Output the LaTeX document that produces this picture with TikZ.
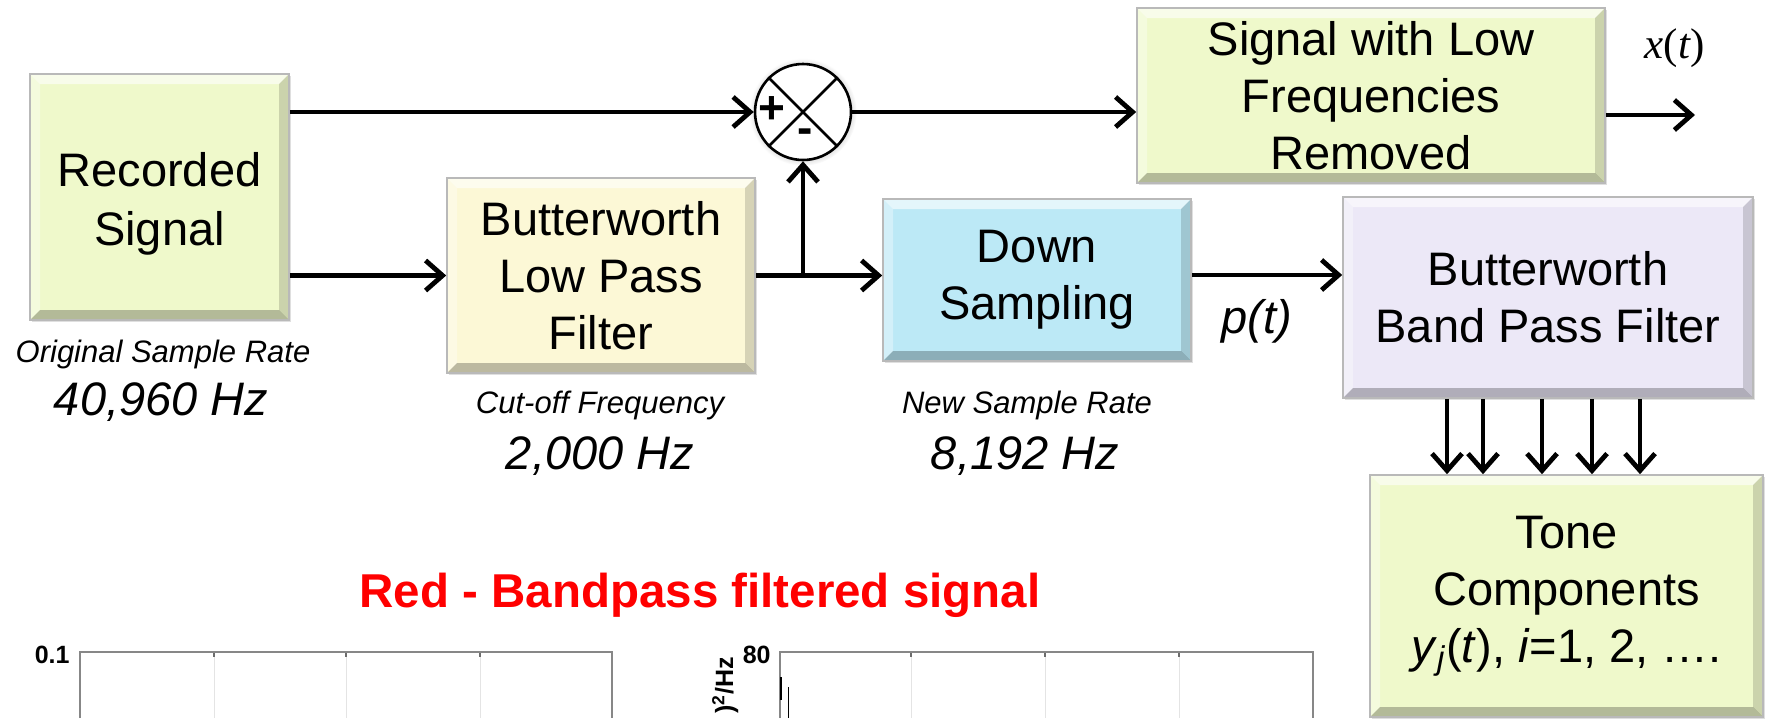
\documentclass[tikz,border=0pt]{standalone}
\usepackage{fontspec}
\setmainfont{Liberation Sans}
\newfontfamily\timesf{Liberation Serif}
\usetikzlibrary{arrows.meta,shadows,calc}
\definecolor{gbox}{RGB}{239,249,203}
\definecolor{ybox}{RGB}{252,248,214}
\definecolor{bbox}{RGB}{188,233,246}
\definecolor{pbox}{RGB}{236,232,247}
\definecolor{axgray}{RGB}{135,135,135}
\definecolor{gridgray}{RGB}{228,228,228}
\newcommand{\bevw}{5pt}
\tikzset{
  blk/.style={draw=gray!55, line width=0.8pt, inner sep=0pt, align=center,
    font=\fontsize{23.5pt}{28.5pt}\selectfont,
    drop shadow={opacity=0.25, shadow xshift=1pt, shadow yshift=-1pt},
    path picture={
      \fill[white,opacity=0.6] (path picture bounding box.north west) -- (path picture bounding box.north east)
        -- ([shift={(-\bevw,-\bevw)}]path picture bounding box.north east) -- ([shift={(\bevw,-\bevw)}]path picture bounding box.north west) -- cycle;
      \fill[white,opacity=0.35] (path picture bounding box.north west) -- ([shift={(\bevw,-\bevw)}]path picture bounding box.north west)
        -- ([shift={(\bevw,\bevw)}]path picture bounding box.south west) -- (path picture bounding box.south west) -- cycle;
      \fill[black,opacity=0.15] (path picture bounding box.north east) -- (path picture bounding box.south east)
        -- ([shift={(-\bevw,\bevw)}]path picture bounding box.south east) -- ([shift={(-\bevw,-\bevw)}]path picture bounding box.north east) -- cycle;
      \fill[black,opacity=0.25] (path picture bounding box.south west) -- ([shift={(\bevw,\bevw)}]path picture bounding box.south west)
        -- ([shift={(-\bevw,\bevw)}]path picture bounding box.south east) -- (path picture bounding box.south east) -- cycle;
    }},
  arr/.style={line width=2.4pt, -{Straight Barb[length=8.5pt,width=15pt]}},
  smalllbl/.style={font=\itshape\fontsize{15.5pt}{18pt}\selectfont, anchor=base},
  biglbl/.style={font=\itshape\fontsize{23.5pt}{28pt}\selectfont, anchor=base},
  axlbl/.style={font=\bfseries\fontsize{12.5pt}{14pt}\selectfont},
}
\begin{document}
\begin{tikzpicture}[x=0.5pt,y=-0.5pt]
\useasboundingbox (0,0) rectangle (1765,718);
\clip (0,0) rectangle (1765,718);

% blocks
\node[blk, fill=gbox, minimum width=129.5pt, minimum height=123pt] (rec) at (159.5,197)
  {\raisebox{-3.5pt}[\height][\depth]{\renewcommand{\arraystretch}{1.04}\begin{tabular}{@{}c@{}}Recorded\\Signal\end{tabular}}};
\node[blk, fill=ybox, minimum width=154pt, minimum height=97.5pt] (lp) at (601,275.5) {Butterworth\\Low Pass\\Filter};
\node[blk, fill=bbox, minimum width=154pt, minimum height=81pt] (down) at (1037,280) {Down\\Sampling};
\node[blk, fill=gbox, minimum width=234pt, minimum height=87.5pt] (sig) at (1371,95.5) {Signal with Low\\Frequencies\\Removed};
\node[blk, fill=pbox, minimum width=205pt, minimum height=100.5pt] (band) at (1548,297.5) {Butterworth\\Band Pass Filter};
\node[blk, fill=gbox, minimum width=196.5pt, minimum height=121pt] (tone) at (1566.5,596)
  {Tone\\Components\\\textit{y}\textsubscript{\textit{j}}(\textit{t}), \textit{i}=1, 2, ….};

% summing junction
\node[circle, draw, line width=1.3pt, fill=white, minimum size=48pt, inner sep=0pt,
  circular drop shadow={shadow xshift=0pt, shadow yshift=0pt, shadow scale=1.12, opacity=0.3}] (sum) at (803,112) {};
\draw[line width=1.3pt] (sum.north west) -- (sum.south east) (sum.north east) -- (sum.south west);
\node[font=\bfseries\fontsize{23pt}{24pt}\selectfont, inner sep=0pt] (plus) at (772,110) {+};
\node[font=\bfseries\fontsize{23pt}{24pt}\selectfont, inner sep=0pt] (minus) at (805,136) {-};

% connectors
\draw[arr] (sum.west -| rec.east) -- (sum.west);
\draw[arr] (lp.west -| rec.east) -- (lp.west);
\draw[arr] (lp.east) -- (lp.east -| down.west);
\coordinate (br) at (sum.south |- lp.east);
\draw[arr] (br) -- (sum.south);
\draw[arr] (sum.east) -- (sum.east -| sig.west);
\coordinate (dout) at ([yshift=2.5pt]down.east);
\draw[arr] (dout) -- (dout -| band.west);
\coordinate (sout) at ([yshift=-9.75pt]sig.east);
\coordinate (xend) at (1695,115);
\draw[arr] (sout) -- (xend);
\foreach \k/\xx in {1/1447,2/1483,3/1542,4/1592,5/1640}{
  \coordinate (t\k) at (\xx,0);
  \draw[arr] (band.south -| t\k) -- (tone.north -| t\k);
}

% labels
\node[font=\fontsize{21.5pt}{24pt}\selectfont\timesf, anchor=base] (xt) at (1675,58) {\textit{x}(\textit{t})};
\node[biglbl] (pt) at (1257,333) {\textit{p}(\textit{t})};
\node[smalllbl] (osr) at (163,362) {Original Sample Rate};
\node[biglbl] (osrv) at (161,415) {40,960 Hz};
\node[smalllbl] (cof) at (600,413) {Cut-off Frequency};
\node[biglbl] (cofv) at (600,469) {2,000 Hz};
\node[smalllbl] (nsr) at (1027,413) {New Sample Rate};
\node[biglbl] (nsrv) at (1025,469) {8,192 Hz};
\node[font=\bfseries\fontsize{23.75pt}{28pt}\selectfont, text=red, anchor=base] (title) at (700,607) {Red - Bandpass filtered signal};

% plot 1
\foreach \gx in {214,346,480}{
  \draw[gridgray, line width=0.5pt] (\gx,652) -- (\gx,718);
  \draw[axgray!80!black, line width=0.6pt] (\gx,652) -- (\gx,657);
}
\draw[axgray, line width=1pt] (80,718) -- (80,652) -- (612,652) -- (612,718);
\node[axlbl, anchor=east, inner sep=1pt] (y1) at (72,655) {0.1};

% plot 2
\foreach \gx in {911,1045,1179}{
  \draw[gridgray, line width=0.5pt] (\gx,652) -- (\gx,718);
  \draw[axgray!80!black, line width=0.6pt] (\gx,652) -- (\gx,657);
}
\draw[axgray, line width=1pt] (780,718) -- (780,652) -- (1313,652) -- (1313,718);
\node[axlbl, anchor=east, inner sep=1pt] (y2) at (773,655) {80};
\node[axlbl, rotate=90, anchor=base east, inner sep=0pt] (ylab2) at (733,657) {)\textsuperscript{2}/Hz};
\draw[black, line width=0.8pt] (781,677) -- (781,700);
\draw[black, line width=0.5pt] (788,687) -- (788,718);
\end{tikzpicture}
\end{document}
